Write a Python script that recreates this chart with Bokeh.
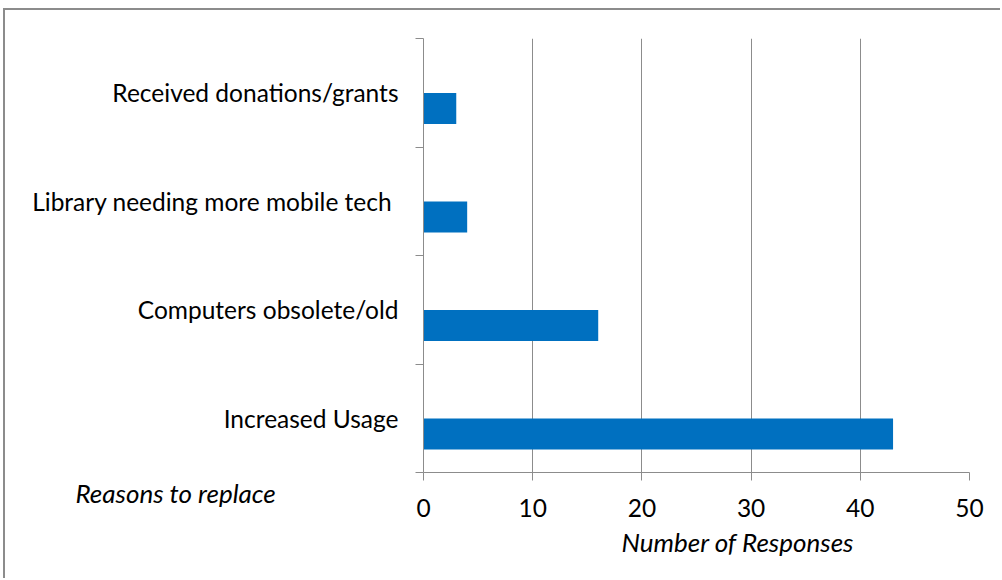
from bokeh.plotting import figure
from bokeh.models import Range1d, FixedTicker, Title, ColumnDataSource
from bokeh.transform import dodge
from bokeh.embed import file_html
from bokeh.resources import INLINE
import numpy as np

# Data (bottom to top)
categories = ["Increased Usage", "Computers obsolete/old",
              "Library needing more mobile tech ", "Received donations/grants"]
responses = [43, 16, 4, 3]
x_ticks = [0, 10, 20, 30, 40, 50]
x_title = "Number of Responses"
y_title = "Reasons to replace"

FONT = "Lato"
FS = "24.5px"
FS_T = "26px"
GRAY = "#8c8c8c"

pos = list(np.arange(len(categories)) + 0.5)
src = ColumnDataSource(dict(pos=pos, val=responses, cat=categories))

p = figure(width=997, height=570, output_backend="svg", toolbar_location=None,
           x_range=Range1d(0, 50), y_range=Range1d(0, len(categories)),
           min_border_left=418, min_border_right=33, min_border_top=28,
           min_border_bottom=108)
p.outline_line_color = None
p.background_fill_color = "white"
p.border_fill_color = "white"
p.styles = {"border-top": "2px solid " + GRAY, "border-left": "2px solid " + GRAY,
            "margin-left": "3px", "margin-top": "8px"}

p.hbar(y=dodge("pos", -0.145, range=p.y_range), right="val", left=0,
       height=0.285, source=src, fill_color="#0070C0", line_color=None)

# x axis
p.xaxis.ticker = FixedTicker(ticks=x_ticks)
p.xaxis.axis_line_color = GRAY
p.xaxis.major_tick_line_color = GRAY
p.xaxis.major_tick_out = 8
p.xaxis.major_tick_in = 0
p.xaxis.minor_tick_line_color = None
p.xaxis.major_label_text_font = FONT
p.xaxis.major_label_text_font_size = FS
p.xaxis.major_label_text_color = "black"
p.xaxis.major_label_standoff = 18
p.xgrid.ticker = FixedTicker(ticks=x_ticks)
p.xgrid.grid_line_color = GRAY
p.xgrid.grid_line_width = 1
p.ygrid.grid_line_color = None

# y axis
p.yaxis.ticker = FixedTicker(ticks=pos, minor_ticks=list(range(len(categories) + 1)))
p.yaxis.major_label_overrides = {float(v): c for v, c in zip(pos, categories)}
p.yaxis.axis_line_color = GRAY
p.yaxis.major_tick_line_color = None
p.yaxis.major_tick_out = 0
p.yaxis.major_tick_in = 0
p.yaxis.minor_tick_line_color = GRAY
p.yaxis.minor_tick_out = 8
p.yaxis.minor_tick_in = 0
p.yaxis.major_label_text_font = FONT
p.yaxis.major_label_text_font_size = FS
p.yaxis.major_label_text_color = "black"
p.yaxis.major_label_standoff = 17

t_x = Title(text=x_title, align="left", offset=198, standoff=9,
            text_font=FONT, text_font_style="italic", text_font_size=FS_T,
            text_color="black")
t_y = Title(text=y_title, align="left", vertical_align="top", offset=-348, standoff=-172,
            text_font=FONT, text_font_style="italic", text_font_size=FS_T,
            text_color="black")
p.add_layout(t_x, "below")
p.add_layout(t_y, "below")

open("out.html", "w").write(file_html(p, INLINE))
